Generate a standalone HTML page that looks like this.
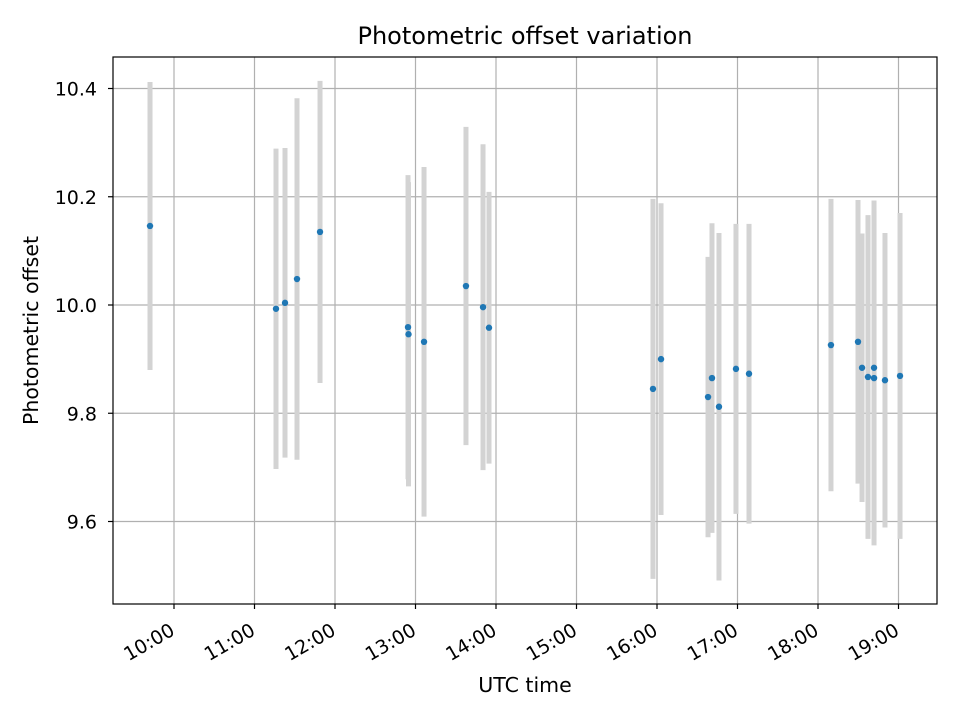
<!DOCTYPE html>
<html><head><meta charset="utf-8"><style>
html,body{margin:0;padding:0;background:#fff}
svg text{font-family:"DejaVu Sans","Liberation Sans",sans-serif;fill:#000}
</style></head><body>
<svg id="chart" width="960" height="720" viewBox="0 0 960 720" xmlns="http://www.w3.org/2000/svg">
<rect width="960" height="720" fill="#fff"/>
<g id="grid"></g><g id="bars"></g><g id="pts"></g><g id="axes"></g>
</svg>
<script>
const times = [9.702,11.267,11.379,11.528,11.814,12.907,12.913,13.106,13.627,13.839,13.913,15.950,16.050,16.634,16.683,16.770,16.981,17.143,18.161,18.497,18.547,18.621,18.696,18.696,18.832,19.019];
const values = [10.146,9.993,10.004,10.048,10.135,9.959,9.946,9.932,10.035,9.996,9.958,9.845,9.900,9.830,9.865,9.812,9.882,9.873,9.926,9.932,9.884,9.867,9.884,9.865,9.861,9.869];
const errors = [0.266,0.296,0.286,0.334,0.279,0.281,0.281,0.323,0.294,0.301,0.251,0.351,0.288,0.259,0.286,0.321,0.268,0.277,0.270,0.262,0.248,0.299,0.309,0.309,0.272,0.301];
const xTicks = [10,11,12,13,14,15,16,17,18,19];
const xTickLabels = ["10:00","11:00","12:00","13:00","14:00","15:00","16:00","17:00","18:00","19:00"];
const yTicks = [9.6,9.8,10.0,10.2,10.4];
const yTickLabels = ["9.6","9.8","10.0","10.2","10.4"];

const L=113,R=937,T=57,B=604;
const x = h => 174 + (h-10)*80.5;
const y = v => 305 - (v-10)*541.25;
const NS="http://www.w3.org/2000/svg";
function mk(tag,attrs,parent){const e=document.createElementNS(NS,tag);for(const k in attrs)e.setAttribute(k,attrs[k]);parent.appendChild(e);return e;}
const grid=document.getElementById('grid'),bars=document.getElementById('bars'),pts=document.getElementById('pts'),axes=document.getElementById('axes');

xTicks.forEach((t,i)=>{
  const gx=x(t);
  const g=mk('line',{x1:gx,x2:gx,y1:T,y2:B,stroke:'#b0b0b0','stroke-width':1.2},grid);
  
  
  const tk=mk('line',{x1:gx,x2:gx,y1:B,y2:B+5,stroke:'#000','stroke-width':1.2},axes);
  
  
  const ax=gx+2, ay=B+30;
  const tx=mk('text',{x:ax,y:ay,'font-size':19,'text-anchor':'end',transform:`rotate(-30 ${ax} ${ay})`},axes);
  tx.textContent=xTickLabels[i];
  
  
});
yTicks.forEach((t,i)=>{
  const gy=y(t);
  const g=mk('line',{x1:L,x2:R,y1:gy,y2:gy,stroke:'#b0b0b0','stroke-width':1.2},grid);
  
  
  const tk=mk('line',{x1:L-5,x2:L,y1:gy,y2:gy,stroke:'#000','stroke-width':1.2},axes);
  
  
  const tx=mk('text',{x:L-16,y:gy+7,'font-size':19,'text-anchor':'end'},axes);
  tx.textContent=yTickLabels[i];
  
  
});
times.forEach((t,i)=>{
  const b=mk('line',{x1:x(t),x2:x(t),y1:y(values[i]+errors[i]),y2:y(values[i]-errors[i]),stroke:'#d3d3d3','stroke-width':5},bars);
  
  
});
times.forEach((t,i)=>{
  const c=mk('circle',{cx:x(t),cy:y(values[i]),r:3.2,fill:'#1f77b4'},pts);
  
  
});
const fr=mk('rect',{x:L,y:T,width:R-L,height:B-T,fill:'none',stroke:'#000','stroke-width':1.2},axes);


const ti=mk('text',{x:(L+R)/2,y:44,'font-size':24,'text-anchor':'middle'},axes);
ti.textContent='Photometric offset variation';


const xl=mk('text',{x:(L+R)/2,y:692,'font-size':20.5,'text-anchor':'middle'},axes);
xl.textContent='UTC time';


const yl=mk('text',{x:38,y:(T+B)/2,'font-size':20.5,'text-anchor':'middle',transform:`rotate(-90 38 ${(T+B)/2})`},axes);
yl.textContent='Photometric offset';


</script>
</body></html>
